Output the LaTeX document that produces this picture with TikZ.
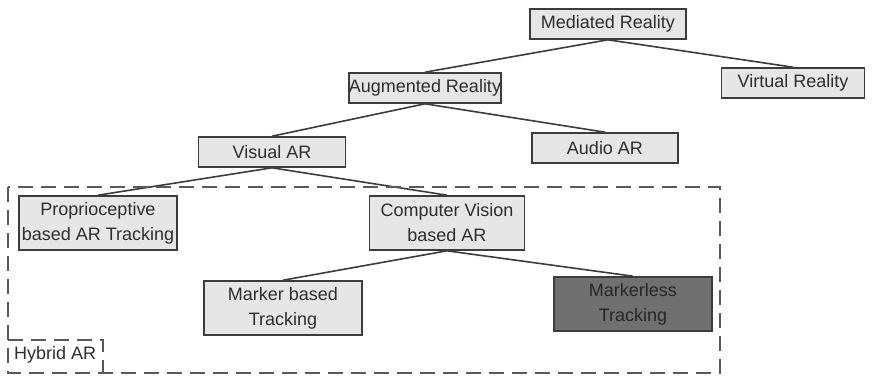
\documentclass[tikz,border=0pt]{standalone}
\usepackage{fontspec}
\setmainfont{Liberation Sans}
\usetikzlibrary{positioning}

\definecolor{boxfill}{RGB}{230,230,230}
\definecolor{boxline}{RGB}{60,60,60}
\definecolor{darkfill}{RGB}{112,112,112}
\definecolor{textgray}{RGB}{45,45,45}

\begin{document}
\begin{tikzpicture}[auto,node distance=32pt,
	main node/.style={rectangle,draw=boxline,fill=boxfill,line width=0.8pt,
		inner sep=0pt,minimum height=15pt,align=center,text=textgray,
		font=\fontsize{9}{12.5}\selectfont},
	tall node/.style={main node,minimum height=27pt},
	dark node/.style={tall node,fill=darkfill,text=black!85},
	hybrid line/.style={draw=black!65,line width=1pt,dash pattern=on 7.5pt off 4pt}]
	
	\useasboundingbox (0,0) rectangle (437.5pt,-188pt);
	
	\node[main node,minimum width=78pt] (mr) at (304pt,-12pt) {Mediated Reality};
	\node[main node,minimum width=73.5pt] (ar) [below of=mr,xshift=-91.5pt] {Augmented Reality};
	\node[main node,minimum width=71.5pt] (vr) [right of=ar,node distance=184pt,yshift=2.5pt] {Virtual Reality};
	\node[main node,minimum width=73.5pt] (vis) [below of=ar,xshift=-76.5pt] {Visual AR};
	\node[main node,minimum width=73pt] (audio) [right of=vis,node distance=166.5pt,yshift=2pt] {Audio AR};
	\node[tall node,minimum width=77.5pt] (cv) [below of=vis,node distance=35.5pt,xshift=87.5pt] {Computer Vision\\based AR};
	\node[tall node,minimum width=79pt] (prop) [left of=cv,node distance=174.5pt] {Proprioceptive\\based AR Tracking};
	\node[tall node,minimum width=79pt] (marker) [below of=cv,node distance=42.5pt,xshift=-82pt] {Marker based\\Tracking};
	\node[dark node,minimum width=79pt] (mless) [right of=marker,node distance=175pt,yshift=2pt] {Markerless\\Tracking};
	
	\path[draw=boxline,line width=0.8pt]
	(mr.south) edge (ar.north)
	(mr.south) edge (vr.north)
	(ar.south) edge (vis.north)
	(ar.south) edge (audio.north)
	(vis.south) edge (prop.north)
	(vis.south) edge (cv.north)
	(cv.south) edge (marker.north)
	(cv.south) edge (mless.north);
	
	% dashed frame round the hybrid part
	\coordinate (hybridnw) at (4pt,-93.5pt);
	\coordinate (hybridse) at (360pt,-186.5pt);
	\coordinate (hlabel) at (51.5pt,-170pt);
	\draw[hybrid line] (hybridnw) rectangle (hybridse);
	\draw[hybrid line] (hybridnw |- hlabel) -| (hlabel |- hybridse);
	\node[font=\fontsize{9}{11}\selectfont,text=textgray,anchor=west] (hybrid) at (3.5pt,-177.5pt) {Hybrid AR};
\end{tikzpicture}
\end{document}
